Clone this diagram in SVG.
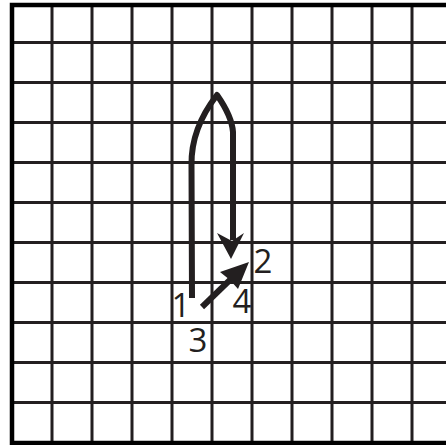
<svg xmlns="http://www.w3.org/2000/svg" width="446" height="445" viewBox="0 0 446 445">
<style>
.g{stroke:#231f20;stroke-width:3;fill:none}
.b{stroke:#000;stroke-width:4.5;fill:none}
.p{stroke:#231f20;stroke-width:6;fill:none;stroke-linejoin:round}
.h{fill:#231f20}
.t{font-family:"Open Sans","Liberation Sans",sans-serif;font-size:33px;fill:#231f20}
</style>
<rect width="446" height="445" fill="#fff"/>
<g id="grid">
<path class="g" d="M52,5V443M92,5V443M132,5V443M172,5V443M212,5V443M252,5V443M292,5V443M332,5V443M372,5V443M412,5V443"/>
<path class="g" d="M12,42.5H446M12,82.5H446M12,122.5H446M12,162.5H446M12,202.5H446M12,242.5H446M12,282.5H446M12,322.5H446M12,362.5H446M12,402.5H446"/>
<path class="b" d="M446,5H12V443H446"/>
</g>
<g id="connectors">
<path class="p" d="M192,298 L191.5,165 C191,135 203,113 217,95 C224,105 232,118 233,132 L233,240"/>
<polygon class="h" points="217,233 232,241 244,233 231,259"/>
<path class="p" d="M202,307 L232,278"/>
<polygon class="h" points="249,262 238,289 230,280 220,272"/>
</g>
<g id="labels">
<text class="t" x="181" y="317" text-anchor="middle">1</text>
<text class="t" x="263" y="273" text-anchor="middle">2</text>
<text class="t" x="198" y="352" text-anchor="middle">3</text>
<text class="t" x="242" y="313" text-anchor="middle">4</text>
</g>
</svg>
